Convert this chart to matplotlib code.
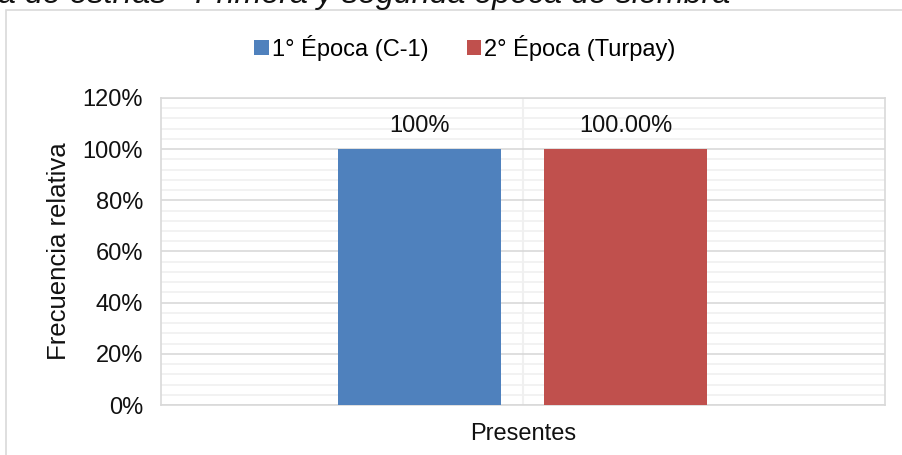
import numpy as np
import matplotlib
matplotlib.use("Agg")
import matplotlib.pyplot as plt
from matplotlib.patches import Rectangle
from matplotlib.ticker import MultipleLocator, FuncFormatter

plt.rcParams['font.family'] = ['Liberation Sans', 'DejaVu Sans']

categories = ["Presentes"]
series = ["1° Época (C-1)", "2° Época (Turpay)"]
values = [1.0, 1.0]
labels = ["100%", "100.00%"]
colors = ["#4F81BD", "#C0504D"]

fs = 17

fig = plt.figure(figsize=(9.02, 4.55), dpi=100)

# chart area border (cut off at right/bottom)
fig.patches.append(Rectangle((6/902, -0.1), 1.2, 1 - 10/455 + 0.1, transform=fig.transFigure,
                             fill=False, edgecolor="#d9d9d9", lw=1.2, zorder=0))

# cut-off title
fig.text(-2/902, 1 - 2.5/455, "a de estrías - Primera y segunda época de siembra", ha="left", va="baseline",
         fontsize=23.2, style="italic", color="#111111")

ax = fig.add_axes([161/902, 50/455, 724/902, 307/455])

width = 0.225
offsets = [-0.143, 0.1416]
x = np.arange(len(categories))
for i, s in enumerate(series):
    ax.bar(x + offsets[i], [values[i]], width, color=colors[i], label=s, zorder=3)
    ax.text(x[0] + offsets[i], values[i] + 0.047, labels[i], ha="center", va="bottom",
            fontsize=fs, color="#111111")

ax.set_xlim(-0.5, 0.5)
ax.set_ylim(0, 1.2)
ax.yaxis.set_major_locator(MultipleLocator(0.2))
ax.yaxis.set_minor_locator(MultipleLocator(0.04))
ax.yaxis.set_major_formatter(FuncFormatter(lambda v, p: f"{v*100:.0f}%"))
ax.grid(which="minor", axis="y", color="#f0f0f0", lw=1.2, zorder=0)
ax.grid(which="major", axis="y", color="#d9d9d9", lw=1.2, zorder=1)
ax.axvline(0, color="#f0f0f0", lw=1.5, zorder=0)
ax.set_xticks(x)
ax.set_xticklabels(categories, fontsize=fs)
ax.tick_params(axis="both", which="both", length=0, labelsize=fs, colors="#111111")
ax.tick_params(axis="x", pad=13)
ax.tick_params(axis="y", pad=13)
for sp in ax.spines.values():
    sp.set_color("#d9d9d9")
    sp.set_linewidth(1.2)
ax.set_ylabel("Frecuencia relativa", fontsize=18.5, color="#111111", labelpad=8)

fig.legend(loc="center", bbox_to_anchor=(465/902, 1 - 48/455), ncol=2, frameon=False,
           fontsize=fs, handlelength=0.6, handleheight=0.6, handletextpad=0.15, columnspacing=1.6)

fig.savefig("out.png", dpi=100)
